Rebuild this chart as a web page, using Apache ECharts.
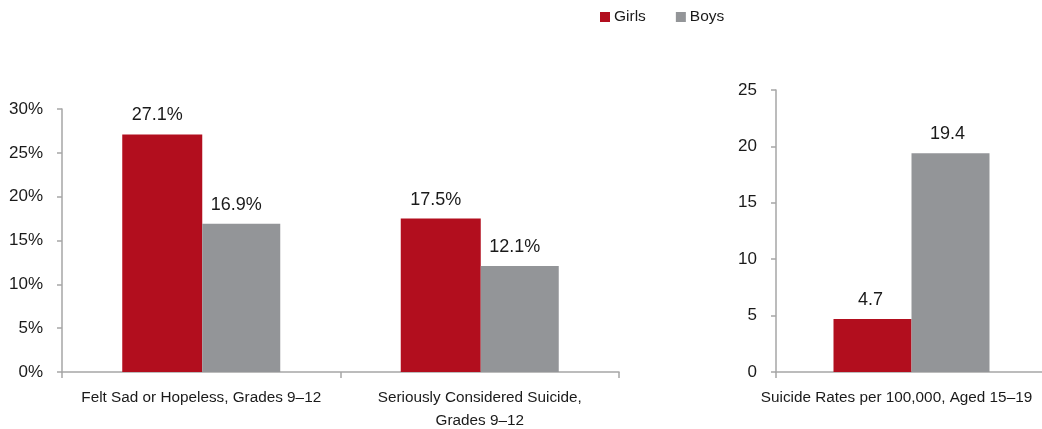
<!DOCTYPE html>
<html><head><meta charset="utf-8">
<script src="https://cdn.jsdelivr.net/npm/echarts@6/dist/echarts.min.js"></script>
<style>html,body{margin:0;padding:0;background:#fff}#c{width:1042px;height:429px}</style>
</head><body><div id="c"></div>
<script>
const seriesNames = ['Girls', 'Boys'];
const leftCategories = ['Felt Sad or Hopeless, Grades 9–12', 'Seriously Considered Suicide,\nGrades 9–12'];
const leftGirls = [27.1, 17.5];
const leftBoys = [16.9, 12.1];
const rightCategories = ['Suicide Rates per 100,000, Aged 15–19'];
const rightGirls = [4.7];
const rightBoys = [19.4];

const RED = '#B20E1E', GREY = '#939598';
const FONT = '"Liberation Sans", Arial, sans-serif';
const TXT = '#1a1a1a';
const chart = echarts.init(document.getElementById('c'));
const yBase = {
  type: 'value', min: 0, interval: 5,
  axisLine: {show: true, lineStyle: {color: '#A6A6A6', width: 1.5}},
  axisTick: {show: true, length: 5, lineStyle: {color: '#A6A6A6', width: 1.5}},
  splitLine: {show: false},
  axisLabel: {color: TXT, fontSize: 17, fontFamily: FONT, margin: 19}
};
const xBase = {
  type: 'category', boundaryGap: true,
  axisLine: {show: true, lineStyle: {color: '#A6A6A6', width: 1.5}},
  axisTick: {show: true, length: 6, lineStyle: {color: '#A6A6A6', width: 1.5}},
  axisLabel: {color: TXT, fontSize: 15.3, fontFamily: FONT, margin: 14, lineHeight: 23, interval: 0}
};
const lbl = (fmt, dx) => ({show: true, position: 'top', distance: 10, offset: [dx, 0], color: TXT, fontSize: 18, fontFamily: FONT, formatter: fmt});
chart.setOption({
  animation: false,
  legend: {
    data: seriesNames, top: 9, left: 600, padding: 0, itemWidth: 10, itemHeight: 10, itemGap: 30,
    icon: 'rect',
    textStyle: {color: TXT, fontSize: 15.5, fontFamily: FONT, padding: [0, 0, 0, -1]}
  },
  grid: [
    {left: 62, top: 109, width: 557, height: 263, outerBoundsMode: 'none', containLabel: false},
    {left: 776, top: 90, width: 271, height: 282, outerBoundsMode: 'none', containLabel: false}
  ],
  xAxis: [
    Object.assign({}, xBase, {gridIndex: 0, data: leftCategories}),
    Object.assign({}, xBase, {gridIndex: 1, data: rightCategories,
      axisLabel: Object.assign({}, xBase.axisLabel, {padding: [0, 30, 0, 0]})})
  ],
  yAxis: [
    Object.assign({}, yBase, {gridIndex: 0, max: 30, axisLabel: Object.assign({}, yBase.axisLabel, {formatter: '{value}%'})}),
    Object.assign({}, yBase, {gridIndex: 1, max: 25})
  ],
  series: [
    {name: seriesNames[0], type: 'bar', xAxisIndex: 0, yAxisIndex: 0, data: leftGirls, barWidth: 80, barGap: '0%', itemStyle: {color: RED}, label: lbl('{c}%', -5)},
    {name: seriesNames[1], type: 'bar', xAxisIndex: 0, yAxisIndex: 0, data: leftBoys, barWidth: 78, barGap: '0%', itemStyle: {color: GREY}, label: lbl('{c}%', -5)},
    {name: seriesNames[0], type: 'bar', xAxisIndex: 1, yAxisIndex: 1, data: rightGirls, barWidth: 78, barGap: '0%', itemStyle: {color: RED}, label: lbl('{c}', -2)},
    {name: seriesNames[1], type: 'bar', xAxisIndex: 1, yAxisIndex: 1, data: rightBoys, barWidth: 78, barGap: '0%', itemStyle: {color: GREY}, label: lbl('{c}', -3)}
  ]
});
</script></body></html>
